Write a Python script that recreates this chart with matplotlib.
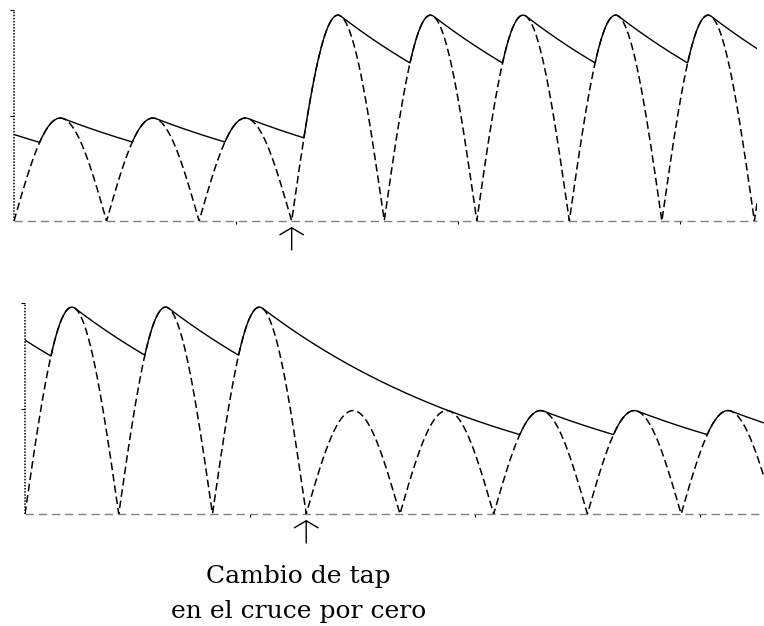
import numpy as np
import matplotlib.pyplot as plt

# half-cycle amplitudes (60 Hz, tap change after 3 half-cycles)
freq = 60.0
amp_top = [1, 1, 1, 2, 2, 2, 2, 2, 2]
amp_bottom = [2, 2, 2, 1, 1, 1, 1, 1, 1]
tau_ms = 24.0          # decay time constant of the solid envelope
t_switch = 25.0        # ms, zero crossing where the tap changes
t_end_top = 66.9
t_end_bottom = 65.7
xtick_ms = [20, 40, 60]
label_lines = ["Cambio de tap", "en el cruce por cero"]


def waves(amps, t_end):
    half = 1000.0 / (2 * freq)
    t = np.linspace(0, t_end, 4000)
    k = np.minimum((t // half).astype(int), len(amps) - 1)
    a = np.array(amps)[k]
    rect = a * np.abs(np.sin(2 * np.pi * freq * t / 1000.0))
    env = np.empty_like(t)
    v = amps[0] * np.exp(-(half / 2) / tau_ms)
    prev = 0.0
    for i in range(len(t)):
        v = v * np.exp(-(t[i] - prev) / tau_ms)
        v = max(v, rect[i])
        env[i] = v
        prev = t[i]
    return t, rect, env


fig = plt.figure(figsize=(7.64, 6.26), dpi=100)
ax1 = fig.add_axes([14 / 764, 1 - 221 / 626, 743 / 764, 211 / 626])
ax2 = fig.add_axes([25 / 764, 1 - 514 / 626, 739 / 764, 211 / 626])

for ax, amps, t_end, ymax in [(ax1, amp_top, t_end_top, 2.05), (ax2, amp_bottom, t_end_bottom, 2.04)]:
    t, rect, env = waves(amps, t_end)
    ax.axhline(0, color='#808080', lw=1.0, linestyle=(0, (6, 3.5)), clip_on=False)
    ax.axvline(0, color='black', lw=1.1, linestyle=(0, (1, 1)), clip_on=False)
    ax.plot(t, rect, color='black', lw=1.1, linestyle=(0, (5, 2.5)))
    ax.plot(t, env, color='black', lw=1.0)
    ax.set_xlim(0, t_end)
    ax.set_ylim(0, ymax)
    for s in ax.spines.values():
        s.set_visible(False)
    ax.set_yticks([ymax / 2, ymax])
    ax.set_xticks(xtick_ms)
    ax.tick_params(axis='y', length=3, width=0.8, labelleft=False)
    ax.tick_params(axis='x', length=2, width=0.8, labelbottom=False)
    ax.patch.set_alpha(0)

    # arrow marking the tap change
    xp, yp = ax.transData.transform((t_switch, 0))
    fig.add_artist(plt.Annotation('', xy=(xp, yp - 6), xytext=(xp, yp - 29),
                                  xycoords='figure pixels', textcoords='figure pixels',
                                  arrowprops=dict(arrowstyle='->, head_width=0.85, head_length=0.5',
                                                  color='black', lw=1.0, shrinkA=0, shrinkB=0)))

fig.text(298 / 764, 1 - 583 / 626, label_lines[0], ha='center', va='baseline',
         family='DejaVu Serif', fontsize=18)
fig.text(299 / 764, 1 - 618 / 626, label_lines[1], ha='center', va='baseline',
         family='DejaVu Serif', fontsize=18)

fig.savefig('out.png', dpi=100)
